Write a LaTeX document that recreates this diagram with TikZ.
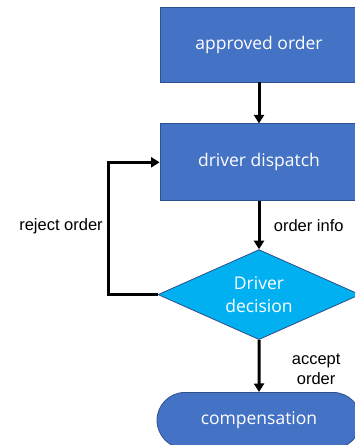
\documentclass[tikz,border=0pt]{standalone}
\usepackage{fontspec}
\usetikzlibrary{arrows.meta,positioning,shapes.geometric,shapes.misc}
\newfontfamily\boxfont{Open Sans}
\newfontfamily\labfont{Liberation Sans}
\definecolor{ofblue}{HTML}{4472C4}
\definecolor{ofedge}{HTML}{2F528F}
\definecolor{ofcyan}{HTML}{00B0F0}

\begin{document}
\begin{tikzpicture}[
  x=1pt, y=-1pt,
  box/.style={draw=ofedge, line width=0.8pt, fill=ofblue, text=white,
    font=\boxfont\fontsize{17.5}{23}\selectfont, align=center,
    minimum width=198pt, inner sep=0pt},
  choice/.style={box, diamond, fill=ofcyan, aspect=2.24,
    minimum width=202pt, minimum height=90pt},
  term/.style={box, rounded rectangle, minimum width=204pt, minimum height=56pt},
  arr/.style={-{Triangle[length=8.5pt,width=10pt]}, line width=3pt, black},
  lab/.style={font=\labfont\fontsize{16.5}{20}\selectfont, text=black, align=center}]
\useasboundingbox (0,0) rectangle (354,445);
\node[box, minimum height=75pt] (approved) at (259,44.5) {approved order};
\node[box, minimum height=77pt, below=41pt of approved] (dispatch) {driver dispatch};
\node[choice, below=48pt of dispatch] (decision) {Driver\\decision};
\node[term, below=52pt of decision] (comp) {compensation};
\draw[arr] (approved) -- (dispatch);
\draw[arr] (dispatch) -- node[lab, right, xshift=10pt]{order info} (decision);
\draw[arr] (decision) -- node[lab, right, xshift=28pt, yshift=-3pt]{accept\\order} (comp);
\draw[arr] (decision.west) -| node[lab, pos=0.76, left, xshift=-1pt]{reject order}
  ([xshift=-51pt]dispatch.west) -- (dispatch.west);
\end{tikzpicture}
\end{document}
